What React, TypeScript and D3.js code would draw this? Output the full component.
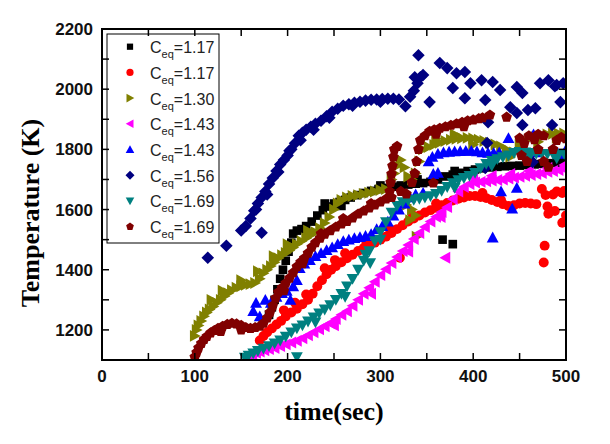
import React from "react";
import * as d3 from "d3";

type P = [number, number];

const legendLabels = ["1.17", "1.17", "1.30", "1.43", "1.43", "1.56", "1.69", "1.69"];
const colors = ["#000000", "#ff0000", "#808000", "#ff00ff", "#0000ff", "#000080", "#008080", "#800000"];
const shapes = ["square", "circle", "right", "left", "up", "diamond", "down", "pentagon"];

const xTicks = [0, 100, 200, 300, 400, 500];
const xMinor = [50, 150, 250, 350, 450];
const yTicks = [1200, 1400, 1600, 1800, 2000, 2200];
const yMinor = [1300, 1500, 1700, 1900, 2100];

const black117: P[] = [[180,1250],[183,1275],[186,1300],[189,1335],[192,1370],[195,1400],[198,1430],[201,1460],[204,1490],[206,1520],[210,1530],[215,1535],[220,1545],[226,1560],[232,1580],[238,1598],[244,1610],[250,1620],[256,1625],[262,1632],[268,1640],[275,1648],[282,1655],[290,1662],[298,1668],[306,1672],[314,1676],[322,1680],[330,1683],[338,1686],[346,1688],[354,1692],[362,1700],[370,1710],[378,1716],[386,1722],[394,1728],[402,1733],[410,1737],[418,1740],[426,1742],[434,1744],[442,1745],[450,1746],[458,1748],[466,1750],[474,1752],[482,1754],[490,1756],[498,1758],[367,1500],[378,1485],[240,1620],[258,1612],[300,1680],[340,1700],[380,1728],[420,1752]];

const red117: P[] = [[170,1165],[174,1180],[178,1192],[183,1205],[188,1218],[193,1230],[198,1245],[204,1258],[210,1270],[216,1285],[222,1300],[227,1320],[232,1345],[237,1365],[242,1385],[247,1400],[252,1412],[258,1425],[264,1438],[270,1450],[276,1462],[282,1472],[288,1480],[294,1490],[300,1500],[306,1510],[312,1522],[318,1535],[324,1548],[330,1560],[336,1570],[342,1580],[348,1590],[354,1598],[360,1606],[366,1614],[372,1622],[378,1630],[384,1636],[390,1640],[396,1645],[402,1645],[408,1642],[414,1638],[420,1632],[426,1625],[432,1618],[438,1612],[444,1614],[450,1620],[456,1622],[462,1620],[468,1618],[474,1668],[478,1648],[486,1650],[490,1660],[496,1655],[480,1610],[488,1595],[481,1586],[496,1556],[477,1480],[476,1424],[500,1580],[498,1662],[321,1440],[251,1432],[196,1265],[208,1290],[220,1318],[240,1405],[262,1455],[285,1490],[310,1535],[335,1580],[360,1620],[390,1655],[410,1655],[430,1632]];

const olive130: P[] = [[100,1180],[102,1200],[104,1215],[107,1230],[110,1245],[113,1258],[116,1268],[120,1278],[124,1290],[128,1300],[132,1312],[136,1322],[140,1332],[145,1340],[150,1345],[155,1350],[160,1352],[165,1356],[170,1370],[174,1388],[178,1400],[182,1412],[186,1425],[190,1438],[194,1448],[198,1456],[202,1464],[206,1474],[210,1485],[215,1495],[220,1505],[225,1515],[230,1525],[235,1538],[240,1555],[245,1575],[250,1600],[254,1620],[258,1632],[264,1640],[270,1645],[276,1648],[282,1652],[288,1656],[294,1660],[300,1665],[306,1668],[312,1700],[315,1720],[318,1745],[322,1765],[326,1740],[330,1710],[334,1700],[338,1720],[342,1760],[328,1615],[334,1600],[338,1580],[332,1565],[339,1510],[346,1800],[352,1808],[358,1815],[364,1822],[370,1828],[376,1832],[382,1835],[388,1837],[394,1838],[400,1836],[406,1832],[412,1828],[418,1822],[424,1816],[430,1810],[436,1800],[440,1775],[444,1790],[450,1815],[456,1830],[462,1838],[468,1842],[474,1846],[480,1850],[486,1852],[492,1853],[498,1853],[118,1300],[130,1330],[150,1365],[168,1395],[185,1445],[200,1485],[222,1530],[360,1835],[380,1850],[400,1815],[470,1825],[490,1838]];

const magenta143: P[] = [[158,1110],[162,1118],[166,1124],[170,1128],[175,1132],[180,1136],[186,1140],[192,1146],[198,1152],[204,1158],[210,1164],[216,1172],[222,1182],[228,1192],[234,1202],[240,1212],[246,1222],[252,1236],[258,1250],[264,1262],[270,1280],[276,1300],[282,1320],[288,1340],[294,1360],[300,1382],[306,1402],[312,1422],[318,1442],[324,1462],[330,1482],[336,1502],[342,1522],[348,1542],[354,1560],[360,1576],[366,1592],[372,1608],[378,1635],[384,1660],[390,1675],[396,1685],[402,1690],[408,1692],[414,1694],[420,1696],[426,1698],[432,1700],[438,1703],[444,1706],[450,1709],[456,1712],[462,1715],[468,1718],[474,1721],[480,1725],[486,1728],[492,1731],[498,1735],[370,1440],[400,1706],[420,1712],[440,1718],[460,1728],[480,1738],[498,1748],[250,1215],[290,1320],[330,1460],[365,1575]];

const blue143: P[] = [[163,1262],[166,1290],[170,1245],[176,1300],[182,1290],[188,1310],[194,1322],[199,1330],[203,1300],[206,1345],[210,1365],[213,1405],[218,1420],[224,1432],[230,1445],[236,1455],[242,1465],[248,1474],[254,1485],[260,1495],[266,1500],[272,1505],[278,1508],[284,1512],[290,1518],[296,1535],[302,1545],[308,1560],[314,1580],[320,1600],[326,1620],[332,1640],[338,1650],[346,1655],[352,1760],[356,1775],[362,1785],[368,1790],[374,1792],[380,1793],[386,1794],[392,1795],[398,1795],[404,1793],[410,1790],[416,1788],[422,1788],[428,1790],[357,1718],[362,1722],[438,1837],[447,1672],[442,1603],[421,1507],[486,1800],[499,1794],[492,1785],[465,1850],[470,1790],[430,1660]];

const navy156: P[] = [[114,1440],[134,1480],[150,1530],[172,1523],[155,1545],[160,1570],[164,1596],[168,1620],[172,1640],[176,1660],[180,1685],[184,1705],[188,1728],[192,1750],[196,1765],[200,1780],[204,1800],[208,1820],[212,1845],[216,1855],[220,1865],[225,1875],[230,1885],[236,1895],[242,1910],[248,1925],[254,1935],[260,1945],[266,1950],[272,1955],[278,1958],[284,1962],[290,1965],[296,1966],[302,1967],[308,1968],[314,1968],[320,1966],[327,1943],[332,1975],[336,1995],[340,2020],[343,2040],[341,2113],[346,2047],[337,2040],[364,2087],[372,2070],[382,2053],[391,2057],[378,2004],[397,2020],[409,2030],[421,2024],[429,1997],[447,2007],[453,1987],[472,2020],[481,2030],[490,2014],[494,1957],[353,1957],[391,1970],[413,1964],[440,1940],[447,1921],[459,1931],[467,1937],[453,1881],[485,1881],[415,1821],[464,1758],[416,1890],[413,1738],[497,2020],[488,2010],[166,1600],[178,1650],[190,1725],[202,1795],[214,1830],[228,1865],[245,1905],[270,1945],[300,1958]];

const teal169: P[] = [[154,1108],[158,1115],[163,1122],[168,1130],[174,1138],[180,1146],[186,1155],[192,1165],[198,1178],[204,1192],[210,1205],[216,1215],[222,1228],[228,1242],[234,1255],[240,1268],[246,1282],[252,1300],[258,1320],[264,1345],[270,1370],[276,1400],[282,1430],[288,1462],[294,1495],[300,1525],[306,1558],[312,1590],[318,1612],[324,1625],[330,1630],[336,1632],[342,1636],[348,1640],[354,1645],[360,1652],[366,1662],[372,1675],[378,1688],[384,1698],[390,1705],[396,1712],[402,1722],[408,1738],[414,1752],[420,1762],[426,1768],[432,1774],[438,1780],[444,1788],[450,1792],[456,1790],[462,1788],[468,1786],[474,1785],[480,1784],[486,1784],[492,1784],[498,1785],[210,1110],[289,1422],[230,1225],[262,1310],[284,1450],[300,1500],[380,1672],[420,1745],[460,1772],[490,1770]];

const maroon169: P[] = [[100,1110],[102,1125],[104,1140],[107,1155],[110,1168],[113,1178],[117,1190],[121,1198],[125,1205],[130,1212],[135,1218],[140,1222],[145,1220],[150,1215],[155,1208],[160,1205],[165,1208],[170,1212],[174,1222],[178,1240],[181,1258],[184,1280],[187,1305],[190,1325],[194,1340],[198,1355],[202,1372],[206,1390],[210,1410],[214,1425],[218,1438],[222,1455],[226,1475],[230,1490],[235,1505],[240,1518],[246,1530],[252,1542],[258,1552],[264,1560],[270,1572],[276,1585],[282,1595],[288,1605],[294,1615],[300,1625],[306,1635],[312,1640],[310,1660],[311,1690],[312,1718],[313,1745],[314,1775],[315,1800],[318,1810],[322,1660],[328,1652],[334,1690],[337,1720],[339,1760],[341,1800],[343,1830],[348,1845],[353,1860],[358,1865],[364,1870],[370,1875],[376,1880],[382,1885],[388,1890],[394,1895],[400,1898],[406,1902],[410,1905],[418,1914],[436,1907],[357,1688],[450,1837],[455,1820],[460,1845],[466,1832],[470,1800],[476,1760],[481,1741],[486,1800],[490,1830],[495,1840],[500,1835],[452,1780],[458,1760],[470,1850],[476,1845],[128,1195],[150,1200],[196,1330],[216,1420],[236,1520],[260,1570],[290,1620],[360,1850],[390,1875]];

const seriesData: P[][] = [black117, red117, olive130, magenta143, blue143, navy156, teal169, maroon169];

function symbolPath(shape: string, k: number): string {
  switch (shape) {
    case "square": return `M${-4*k},${-4*k}h${8*k}v${8*k}h${-8*k}Z`;
    case "circle": { const r = 4.6*k; return `M${r},0A${r},${r},0,1,1,${-r},0A${r},${r},0,1,1,${r},0Z`; }
    case "right": return `M${5.5*k},0L${-4.5*k},${-5.5*k}L${-4.5*k},${5.5*k}Z`;
    case "left": return `M${-5.5*k},0L${4.5*k},${-5.5*k}L${4.5*k},${5.5*k}Z`;
    case "up": return `M0,${-5.5*k}L${5.5*k},${4.5*k}L${-5.5*k},${4.5*k}Z`;
    case "down": return `M0,${5.5*k}L${5.5*k},${-4.5*k}L${-5.5*k},${-4.5*k}Z`;
    case "diamond": return `M0,${-5.8*k}L${5.8*k},0L0,${5.8*k}L${-5.8*k},0Z`;
    case "pentagon": {
      const r = 5.2*k;
      const pts = d3.range(5).map(i => {
        const a = -Math.PI/2 + i*2*Math.PI/5;
        return `${(r*Math.cos(a)).toFixed(2)},${(r*Math.sin(a)).toFixed(2)}`;
      });
      return "M" + pts.join("L") + "Z";
    }
  }
  return "";
}

export default function App() {
  const L = 102, R = 566, T = 29, B = 360;
  const x = d3.scaleLinear().domain([0, 500]).range([L, R]);
  const y = d3.scaleLinear().domain([1100, 2200]).range([B, T]);
  const tick = 7;
  const legendX = 107, legendY = 34, rowH = 25.7;

  return (
    <svg width={610} height={444} style={{ position: "absolute", left: 0, top: 0, background: "#fff" }}>
      <defs>
        <clipPath id="plotclip"><rect x={L} y={T} width={R - L} height={B - T} /></clipPath>
      </defs>
      <rect x={0} y={0} width={610} height={444} fill="#fff" />
      <g clipPath="url(#plotclip)">
        {seriesData.map((data, si) => (
          <g key={si} fill={colors[si]}>
            {data.map((d, i) => (
              <path key={i} d={symbolPath(shapes[si], 1.08)} transform={`translate(${x(d[0])},${y(d[1])})`} />
            ))}
          </g>
        ))}
      </g>
      <rect x={legendX} y={legendY} width={112} height={209} fill="#fff" stroke="#000" strokeWidth={1} />
      {legendLabels.map((lab, i) => {
        const cy = legendY + 12.7 + i * rowH;
        return (
          <g key={i}>
            <path d={symbolPath(shapes[i], 0.78)} fill={colors[i]} transform={`translate(130,${cy})`} />
            <text x={150} y={cy + 6.5} fontFamily="Liberation Sans, Arial, sans-serif" fontSize={16} fill="#222">
              C<tspan dy={5} fontSize={11}>eq</tspan><tspan dy={-5}>={lab}</tspan>
            </text>
          </g>
        );
      })}
      <rect x={L} y={T} width={R - L} height={B - T} fill="none" stroke="#000" strokeWidth={2} />
      {[...xTicks, ...xMinor].map((v, i) => (
        <g key={"xt" + i} stroke="#000" strokeWidth={1.5}>
          <line x1={x(v)} x2={x(v)} y1={B} y2={B - tick} />
          <line x1={x(v)} x2={x(v)} y1={T} y2={T + tick} />
        </g>
      ))}
      {[...yTicks, ...yMinor].map((v, i) => (
        <g key={"yt" + i} stroke="#000" strokeWidth={1.5}>
          <line x1={L} x2={L + tick} y1={y(v)} y2={y(v)} />
          <line x1={R} x2={R - tick} y1={y(v)} y2={y(v)} />
        </g>
      ))}
      {xTicks.map(v => (
        <text key={"xl" + v} x={x(v)} y={382} textAnchor="middle" fontFamily="Liberation Sans, Arial, sans-serif" fontWeight="bold" fontSize={17} fill="#111">{v}</text>
      ))}
      {yTicks.map(v => (
        <text key={"yl" + v} x={93} y={y(v) + 6} textAnchor="end" fontFamily="Liberation Sans, Arial, sans-serif" fontWeight="bold" fontSize={17} fill="#111">{v}</text>
      ))}
      <text x={334} y={420} textAnchor="middle" fontFamily="Liberation Serif, Times New Roman, serif" fontWeight="bold" fontSize={26} fill="#000">time(sec)</text>
      <text transform="translate(39,213) rotate(-90)" textAnchor="middle" fontFamily="Liberation Serif, Times New Roman, serif" fontWeight="bold" fontSize={26} fill="#000">Temperature (K)</text>
    </svg>
  );
}
